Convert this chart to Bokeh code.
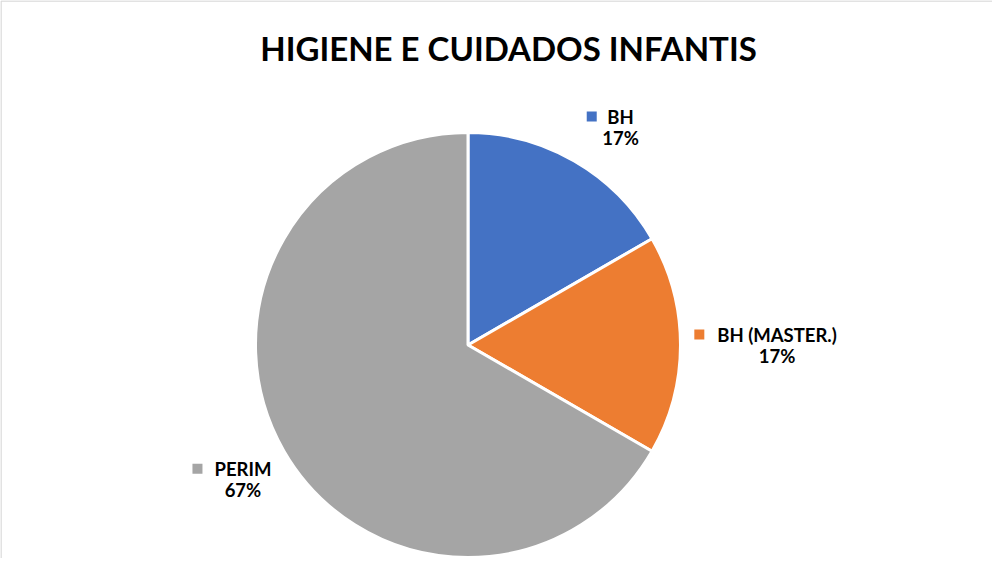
import math
from bokeh.plotting import figure
from bokeh.models import Range1d, ColumnDataSource
from bokeh.core.properties import value
from bokeh.embed import file_html
from bokeh.resources import INLINE

# ---- data ----
title = "HIGIENE E CUIDADOS INFANTIS"
categories = ["BH", "BH (MASTER.)", "PERIM"]
values = [1, 1, 4]
colors = ["#4472C4", "#ED7D31", "#A5A5A5"]

# ---- styles / layout (page-pixel coordinates) ----
W, H = 992, 558
CX, CY, R = 475.5, 352.5, 212.5
label_radius = [266, 309, 262]
label_angle_shift = [-5.0, 0.0, 0.8]
FONT = "Lato"
LSIZE = 18.5

total = sum(values)
pcts = [f"{round(v / total * 100)}%" for v in values]

start, ends, starts, mids = 90.0, [], [], []
for v in values:
    a = v / total * 360.0
    starts.append(math.radians(start))
    ends.append(math.radians(start - a))
    mids.append(start - a / 2)
    start -= a

p = figure(width=W, height=H, output_backend="svg", toolbar_location=None,
           x_range=Range1d(8, 8 + W), y_range=Range1d(-(8 + H), -8),
           min_border=0, outline_line_color=None)
p.axis.visible = False
p.grid.visible = False
p.background_fill_color = "white"
p.border_fill_color = "white"

# chart-area frame (left and top edges visible)
p.segment(x0=[8.5, 8.5], y0=[-(8 + H), -8.5], x1=[8.5, 8 + W], y1=[-8.5, -8.5],
          line_color="#d9d9d9", line_width=1.5)

src = ColumnDataSource(dict(start=starts, end=ends, color=colors))
p.wedge(x=CX, y=-CY, radius=R, start_angle="start", end_angle="end",
        direction="clock", fill_color="color", line_color="white",
        line_width=3, source=src)

p.text(x=[516], y=[-55], text=[title], text_font=value(FONT),
       text_font_style="bold", text_font_size="33px", text_align="center",
       text_baseline="middle", text_color="#000000")

# char width estimate for placing legend keys
def est_width(s, size=LSIZE):
    w = 0.0
    for ch in s:
        if ch == " ":
            w += 0.26
        elif ch in "().":
            w += 0.32
        elif ch == "M":
            w += 0.86
        elif ch in "I":
            w += 0.30
        else:
            w += 0.64
    return w * size

lx, ly1, ly2, lt1, lt2, kx, ky, kc = [], [], [], [], [], [], [], []
for i, (name, pc) in enumerate(zip(categories, pcts)):
    ang = math.radians(mids[i] + label_angle_shift[i])
    ax = CX + label_radius[i] * math.cos(ang)
    ay = CY - label_radius[i] * math.sin(ang)
    lx.append(ax)
    ly1.append(-(ay - 10.5))
    ly2.append(-(ay + 10.5))
    lt1.append(name)
    lt2.append(pc)
    kx.append(ax - est_width(name) / 2 - 17)
    ky.append(-(ay - 10.5))
    kc.append(colors[i])

p.text(x=lx, y=ly1, text=lt1, text_font=value(FONT), text_font_style="bold",
       text_font_size=f"{LSIZE}px", text_align="center", text_baseline="middle",
       text_color="#000000")
p.text(x=lx, y=ly2, text=lt2, text_font=value(FONT), text_font_style="bold",
       text_font_size=f"{LSIZE}px", text_align="center", text_baseline="middle",
       text_color="#000000")
p.scatter(x=kx, y=ky, marker="square", size=10, fill_color=kc, line_color=None)

open("out.html", "w").write(file_html(p, INLINE))
